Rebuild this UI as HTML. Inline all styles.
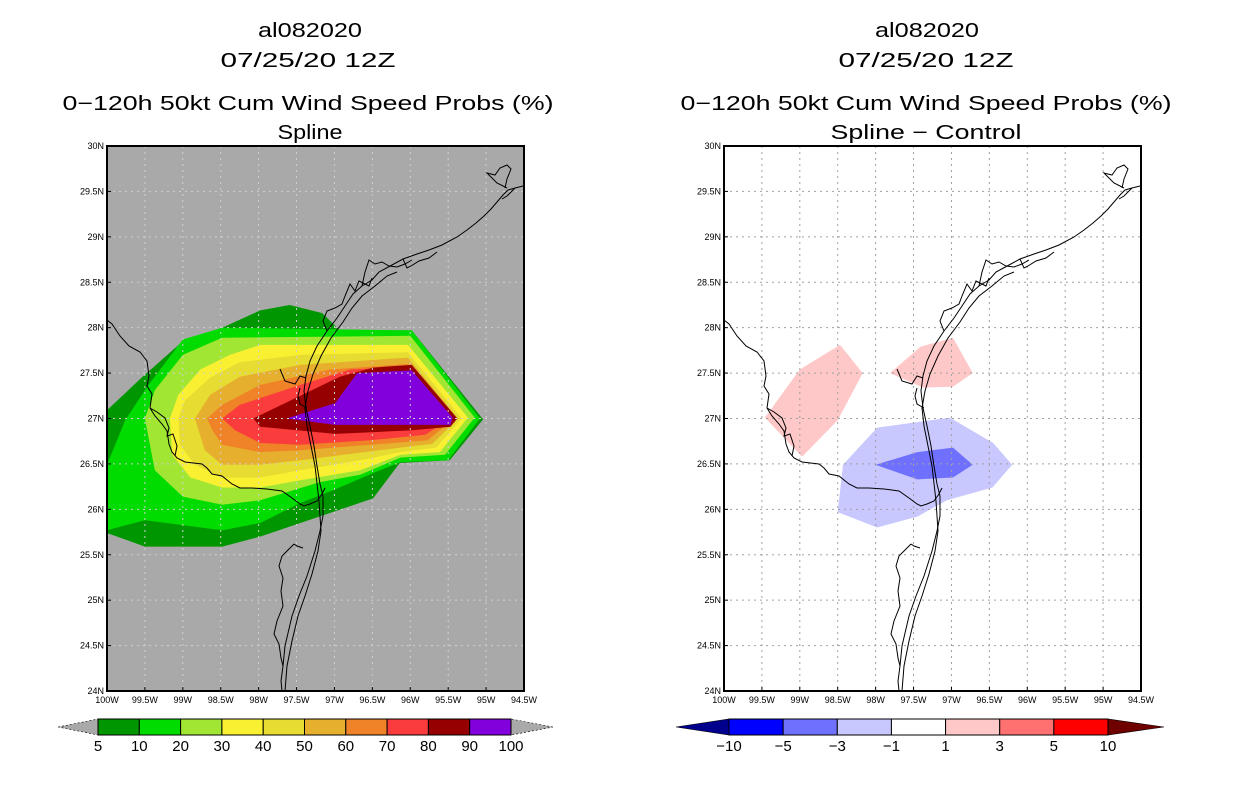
<!DOCTYPE html>
<html><head><meta charset="utf-8">
<style>
html,body{margin:0;padding:0;background:#fff;}
svg{display:block;font-family:"Liberation Sans",sans-serif;}
</style></head>
<body>
<svg id="chart" width="1236" height="800" viewBox="0 0 1236 800" xmlns="http://www.w3.org/2000/svg">
<rect x="0" y="0" width="1236" height="800" fill="#fff"/>
<g font-size="20" text-anchor="middle" fill="#000">
<text x="310" y="37" textLength="104" lengthAdjust="spacingAndGlyphs">al082020</text>
<text x="308" y="67" textLength="175" lengthAdjust="spacingAndGlyphs">07/25/20 12Z</text>
<text x="308" y="110" textLength="491" lengthAdjust="spacingAndGlyphs">0−120h 50kt Cum Wind Speed Probs (%)</text>
<text x="310" y="139" textLength="65" lengthAdjust="spacingAndGlyphs">Spline</text>
</g>
<g font-size="20" text-anchor="middle" fill="#000">
<text x="927" y="37" textLength="104" lengthAdjust="spacingAndGlyphs">al082020</text>
<text x="926" y="67" textLength="175" lengthAdjust="spacingAndGlyphs">07/25/20 12Z</text>
<text x="926" y="110" textLength="491" lengthAdjust="spacingAndGlyphs">0−120h 50kt Cum Wind Speed Probs (%)</text>
<text x="926" y="139" textLength="191" lengthAdjust="spacingAndGlyphs">Spline − Control</text>
</g>
</svg>
<script>
// ---- data ----
const lonTicks = [100, 99.5, 99, 98.5, 98, 97.5, 97, 96.5, 96, 95.5, 95, 94.5];
const latTicks = [24, 24.5, 25, 25.5, 26, 26.5, 27, 27.5, 28, 28.5, 29, 29.5, 30];
const probLevels = ["5","10","20","30","40","50","60","70","80","90","100"];
const probColors = ["#009600","#00dc00","#a0e632","#faf032","#e6dc32","#e6af2d","#f08228","#fa3c3c","#960000","#8200dc"];
const diffLevels = ["−10","−5","−3","−1","1","3","5","10"];
const diffColors = ["#0000ff","#7070ff","#c8c8ff","#ffffff","#ffc8c8","#ff7070","#ff0000"];
// probability contours: [lonW, latN] vertices per level
const prob5 = [[100,27.09],[99.53,27.46],[99.0,27.85],[98.48,28.0],[97.98,28.19],[97.59,28.25],[97.16,28.16],[96.93,27.97],[95.98,27.97],[95.04,26.99],[95.48,26.54],[96.14,26.51],[96.49,26.12],[97.45,25.85],[97.98,25.70],[98.48,25.59],[99.5,25.59],[100,25.74]];
const prob10 = [[100,26.49],[99.76,26.98],[99.47,27.35],[99.0,27.87],[98.48,28.0],[95.98,27.97],[95.08,27.0],[95.5,26.54],[96.13,26.52],[96.4,26.43],[97.02,26.21],[97.45,26.07],[97.98,25.85],[98.48,25.77],[99.5,25.88],[100,25.77]];
const prob20 = [[99.5,27.0],[99.37,27.31],[99.0,27.7],[98.48,27.89],[96.0,27.91],[95.15,27.01],[95.54,26.6],[96.13,26.57],[96.66,26.38],[97.19,26.3],[97.98,26.1],[98.48,26.05],[99.0,26.14],[99.37,26.43]];
const prob30 = [[99.17,27.0],[99.06,27.26],[98.77,27.54],[98.38,27.7],[97.98,27.81],[96.03,27.81],[95.24,27.01],[95.61,26.63],[96.13,26.6],[96.66,26.43],[97.45,26.32],[97.98,26.24],[98.48,26.24],[98.9,26.35],[99.14,26.6]];
const prob40 = [[99.06,27.0],[98.97,27.2],[98.64,27.45],[98.25,27.62],[97.45,27.7],[96.03,27.73],[95.32,27.0],[95.66,26.68],[96.13,26.63],[96.66,26.54],[97.45,26.43],[97.98,26.35],[98.48,26.35],[98.84,26.49],[99.04,26.71]];
const prob50 = [[98.84,27.0],[98.64,27.26],[98.25,27.46],[97.45,27.59],[96.03,27.67],[95.37,27.0],[95.71,26.72],[96.13,26.68],[97.45,26.54],[97.98,26.49],[98.48,26.49],[98.71,26.65]];
const prob60 = [[98.68,27.0],[98.48,27.15],[97.98,27.37],[97.06,27.54],[96.03,27.6],[95.42,27.0],[95.77,26.76],[96.53,26.71],[97.45,26.65],[97.98,26.63],[98.48,26.71],[98.61,26.87]];
const prob70 = [[98.48,27.0],[98.25,27.15],[97.45,27.37],[96.79,27.54],[96.03,27.57],[95.47,27.0],[95.8,26.82],[96.53,26.76],[97.45,26.71],[97.98,26.73],[98.31,26.87]];
const prob80 = [[98.07,27.0],[96.93,27.46],[96.49,27.56],[95.98,27.59],[95.38,27.0],[95.47,26.91],[95.98,26.87],[96.99,26.83],[97.98,26.91]];
const prob90 = [[97.63,27.0],[96.99,27.17],[96.7,27.5],[95.98,27.53],[95.44,27.01],[95.47,26.93],[96.99,26.93]];
// difference contours
const diffPinkWest = [[99.46,27.01],[99.0,27.54],[98.47,27.81],[98.17,27.5],[98.5,26.98],[98.97,26.58]];
const diffPinkEast = [[97.81,27.5],[97.41,27.79],[96.98,27.89],[96.72,27.5],[96.98,27.35],[97.37,27.34]];
const diffLightBlue = [[97.98,26.9],[97.02,27.01],[96.45,26.73],[96.2,26.49],[96.46,26.24],[97.06,26.1],[97.45,25.92],[97.98,25.8],[98.5,25.97],[98.43,26.49]];
const diffBlue = [[98.0,26.49],[97.45,26.63],[96.98,26.68],[96.72,26.49],[96.98,26.35],[97.45,26.33]];

// ---- layout ----
const NS = "http://www.w3.org/2000/svg";
const svg = document.getElementById("chart");
const PW = 417, PH = 545, PY = 146;
const panels = [{x0:107, name:"left"}, {x0:724, name:"right"}];
function xScale(p, lonW){ return p.x0 + (100 - lonW) / 5.5 * PW; }
function yScale(lat){ return PY + PH - (lat - 24) / 6 * PH; }
function mk(tag, attrs, parent){ const e=document.createElementNS(NS,tag); for(const k in attrs) e.setAttribute(k,attrs[k]); (parent||svg).appendChild(e); return e; }
function poly(p, pts, fill, parent){ return mk("polygon",{points:pts.map(q=>xScale(p,q[0]).toFixed(1)+","+yScale(q[1]).toFixed(1)).join(" "),fill:fill},parent); }

const coastMain = "M175,545 L174,535 L176,520 L178,500 L185,470 L192,450 L200,430 L208,405 L213,385 L216,370 L216,350 L213,338 L210,320 L207,300 L203,280 L199,262 L197,245 L199,230 L203,215 L210,200 L220,185 L230,172 L238,160 L246,148 L255,140 L265,134 L272,126 L285,119 L296,113 L310,108 L322,104 L335,99 L350,91 L360,84 L369,77 L377,70 L384,63 L390,56 L396,49 L401,44 L408,42 L416,40";
const coastInner = "M178,545 L180,520 L185,495 L191,470 L198,450 L205,428 L211,405 L214,385 L212,355 L208,320 L204,300 L200,280 L198,262 L201,245 L206,228 L214,210 L224,192 L236,176 L245,162 L255,150 L268,140 L280,130 L290,126";
const coastBays = "M220,185 L216,175 L220,165 L228,162 L235,158 L238,150 L243,138 L248,145 L252,135 L262,140 L265,132 M255,140 L258,126 L262,114 L268,118 L275,116 L282,120 L290,121 L298,118 L305,114 M296,113 L300,122 L304,120 L312,115 L322,112 L330,106 M400,42 L390,37 L380,27 L388,29 L393,22 L400,19 L404,23 L400,33 L398,42 M408,42 L400,50 L395,53 M173,223 L178,235 L188,238 L193,230 L199,232 M200,262 L193,258 L191,250 L193,242 M187,398 L180,405 L175,410 L172,420 L176,432 L174,445 L176,460 L170,475 L167,488 L172,498 L174,512 L176,520 M196,402 L190,400 L187,398";
const border = "M0,174 L5,178 L13,190 L22,200 L33,206 L40,215 L42,230 L40,240 L45,248 L43,262 L48,270 L55,278 L60,285 L62,298 L65,306 L70,312 L78,316 L95,318 L100,322 L105,328 L115,330 L125,338 L133,342 L145,342 L160,343 L175,345 L185,352 L193,358 L197,360 L203,358 L210,355 L215,348 L218,342 M43,262 L50,266 L58,272 L62,282 L60,290 L66,288 L70,300 L68,310";

panels.forEach((p, pi) => {
  const g = mk("g",{});
  
  
  const bg = mk("rect",{x:p.x0,y:PY,width:PW,height:PH,fill: pi===0?"#a9a9a9":"#ffffff"},g);
  
  
  const fills = mk("g",{},g);
  
  
  if (pi === 0) {
    const levels = [prob5,prob10,prob20,prob30,prob40,prob50,prob60,prob70,prob80,prob90];
    levels.forEach((pts, i) => {
      const e = poly(p, pts, probColors[i], fills);
      
      
    });
  } else {
    const items = [[diffPinkWest,diffColors[4],'diff-positive-west'],[diffPinkEast,diffColors[4],'diff-positive-east'],[diffLightBlue,diffColors[2],'diff-negative-outer'],[diffBlue,diffColors[1],'diff-negative-inner']];
    items.forEach(it => {
      const e = poly(p, it[0], it[1], fills);
      
      
    });
  }
  // grid
  const grid = mk("g",{stroke: pi===0?"#d0d0d0":"#a0a0a0","stroke-width":1,"stroke-dasharray":"2,4"},g);
  
  
  lonTicks.slice(1,-1).forEach(l => mk("line",{x1:xScale(p,l),x2:xScale(p,l),y1:PY,y2:PY+PH},grid));
  latTicks.slice(1,-1).forEach(l => mk("line",{x1:p.x0,x2:p.x0+PW,y1:yScale(l),y2:yScale(l)},grid));
  // coast
  const coast = mk("g",{transform:`translate(${p.x0},${PY})`,fill:"none",stroke:"#000","stroke-width":1},g);
  
  
  [coastMain, coastInner, coastBays, border].forEach(d => mk("path",{d:d},coast));
  // frame
  const fr = mk("rect",{x:p.x0,y:PY,width:PW,height:PH,fill:"none",stroke:"#000","stroke-width":2},g);
  
  
  // ticks
  const ax = mk("g",{"font-size":9,fill:"#000"},g);
  
  
  lonTicks.forEach(l => {
    const x = xScale(p,l);
    mk("line",{x1:x,x2:x,y1:PY+PH,y2:PY+PH-4,stroke:"#000"},ax);
    const t = mk("text",{x:x,y:PY+PH+12,"text-anchor":"middle"},ax);
    t.textContent = l + "W";
    
    
  });
  latTicks.forEach(l => {
    const y = yScale(l);
    mk("line",{x1:p.x0,x2:p.x0+4,y1:y,y2:y,stroke:"#000"},ax);
    const t = mk("text",{x:p.x0-3,y:y+3,"text-anchor":"end"},ax);
    t.textContent = l + "N";
    
    
  });
});

// ---- colorbars ----
function colorbar(name, x0, x1, tipL, tipR, colors, leftTip, rightTip, labels){
  const g = mk("g",{});
  
  
  const y0 = 719, y1 = 735, ym = 727;
  const t1 = mk("polygon",{points:`${tipL},${ym} ${x0},${y0} ${x0},${y1}`,fill:leftTip,stroke:"#000","stroke-width":0.6,"stroke-dasharray":leftTip==="#a9a9a9"?"2,2":"none"},g);
  
  
  const t2 = mk("polygon",{points:`${tipR},${ym} ${x1},${y0} ${x1},${y1}`,fill:rightTip,stroke:"#000","stroke-width":0.6,"stroke-dasharray":rightTip==="#a9a9a9"?"2,2":"none"},g);
  
  
  const w = (x1 - x0) / colors.length;
  colors.forEach((c, i) => {
    const r = mk("rect",{x:x0+i*w,y:y0,width:w,height:y1-y0,fill:c,stroke:"#000","stroke-width":1},g);
    
    
  });
  labels.forEach((lb, i) => {
    const t = mk("text",{x:x0+i*w,y:751,"text-anchor":"middle","font-size":15},g);
    t.textContent = lb;
    
    
  });
}
colorbar("probability-colorbar", 98, 511, 58, 553, probColors, "#a9a9a9", "#a9a9a9", probLevels);
colorbar("difference-colorbar", 729, 1108, 676, 1164, diffColors, "#00008c", "#6e0000", diffLevels);
</script>
</body></html>
